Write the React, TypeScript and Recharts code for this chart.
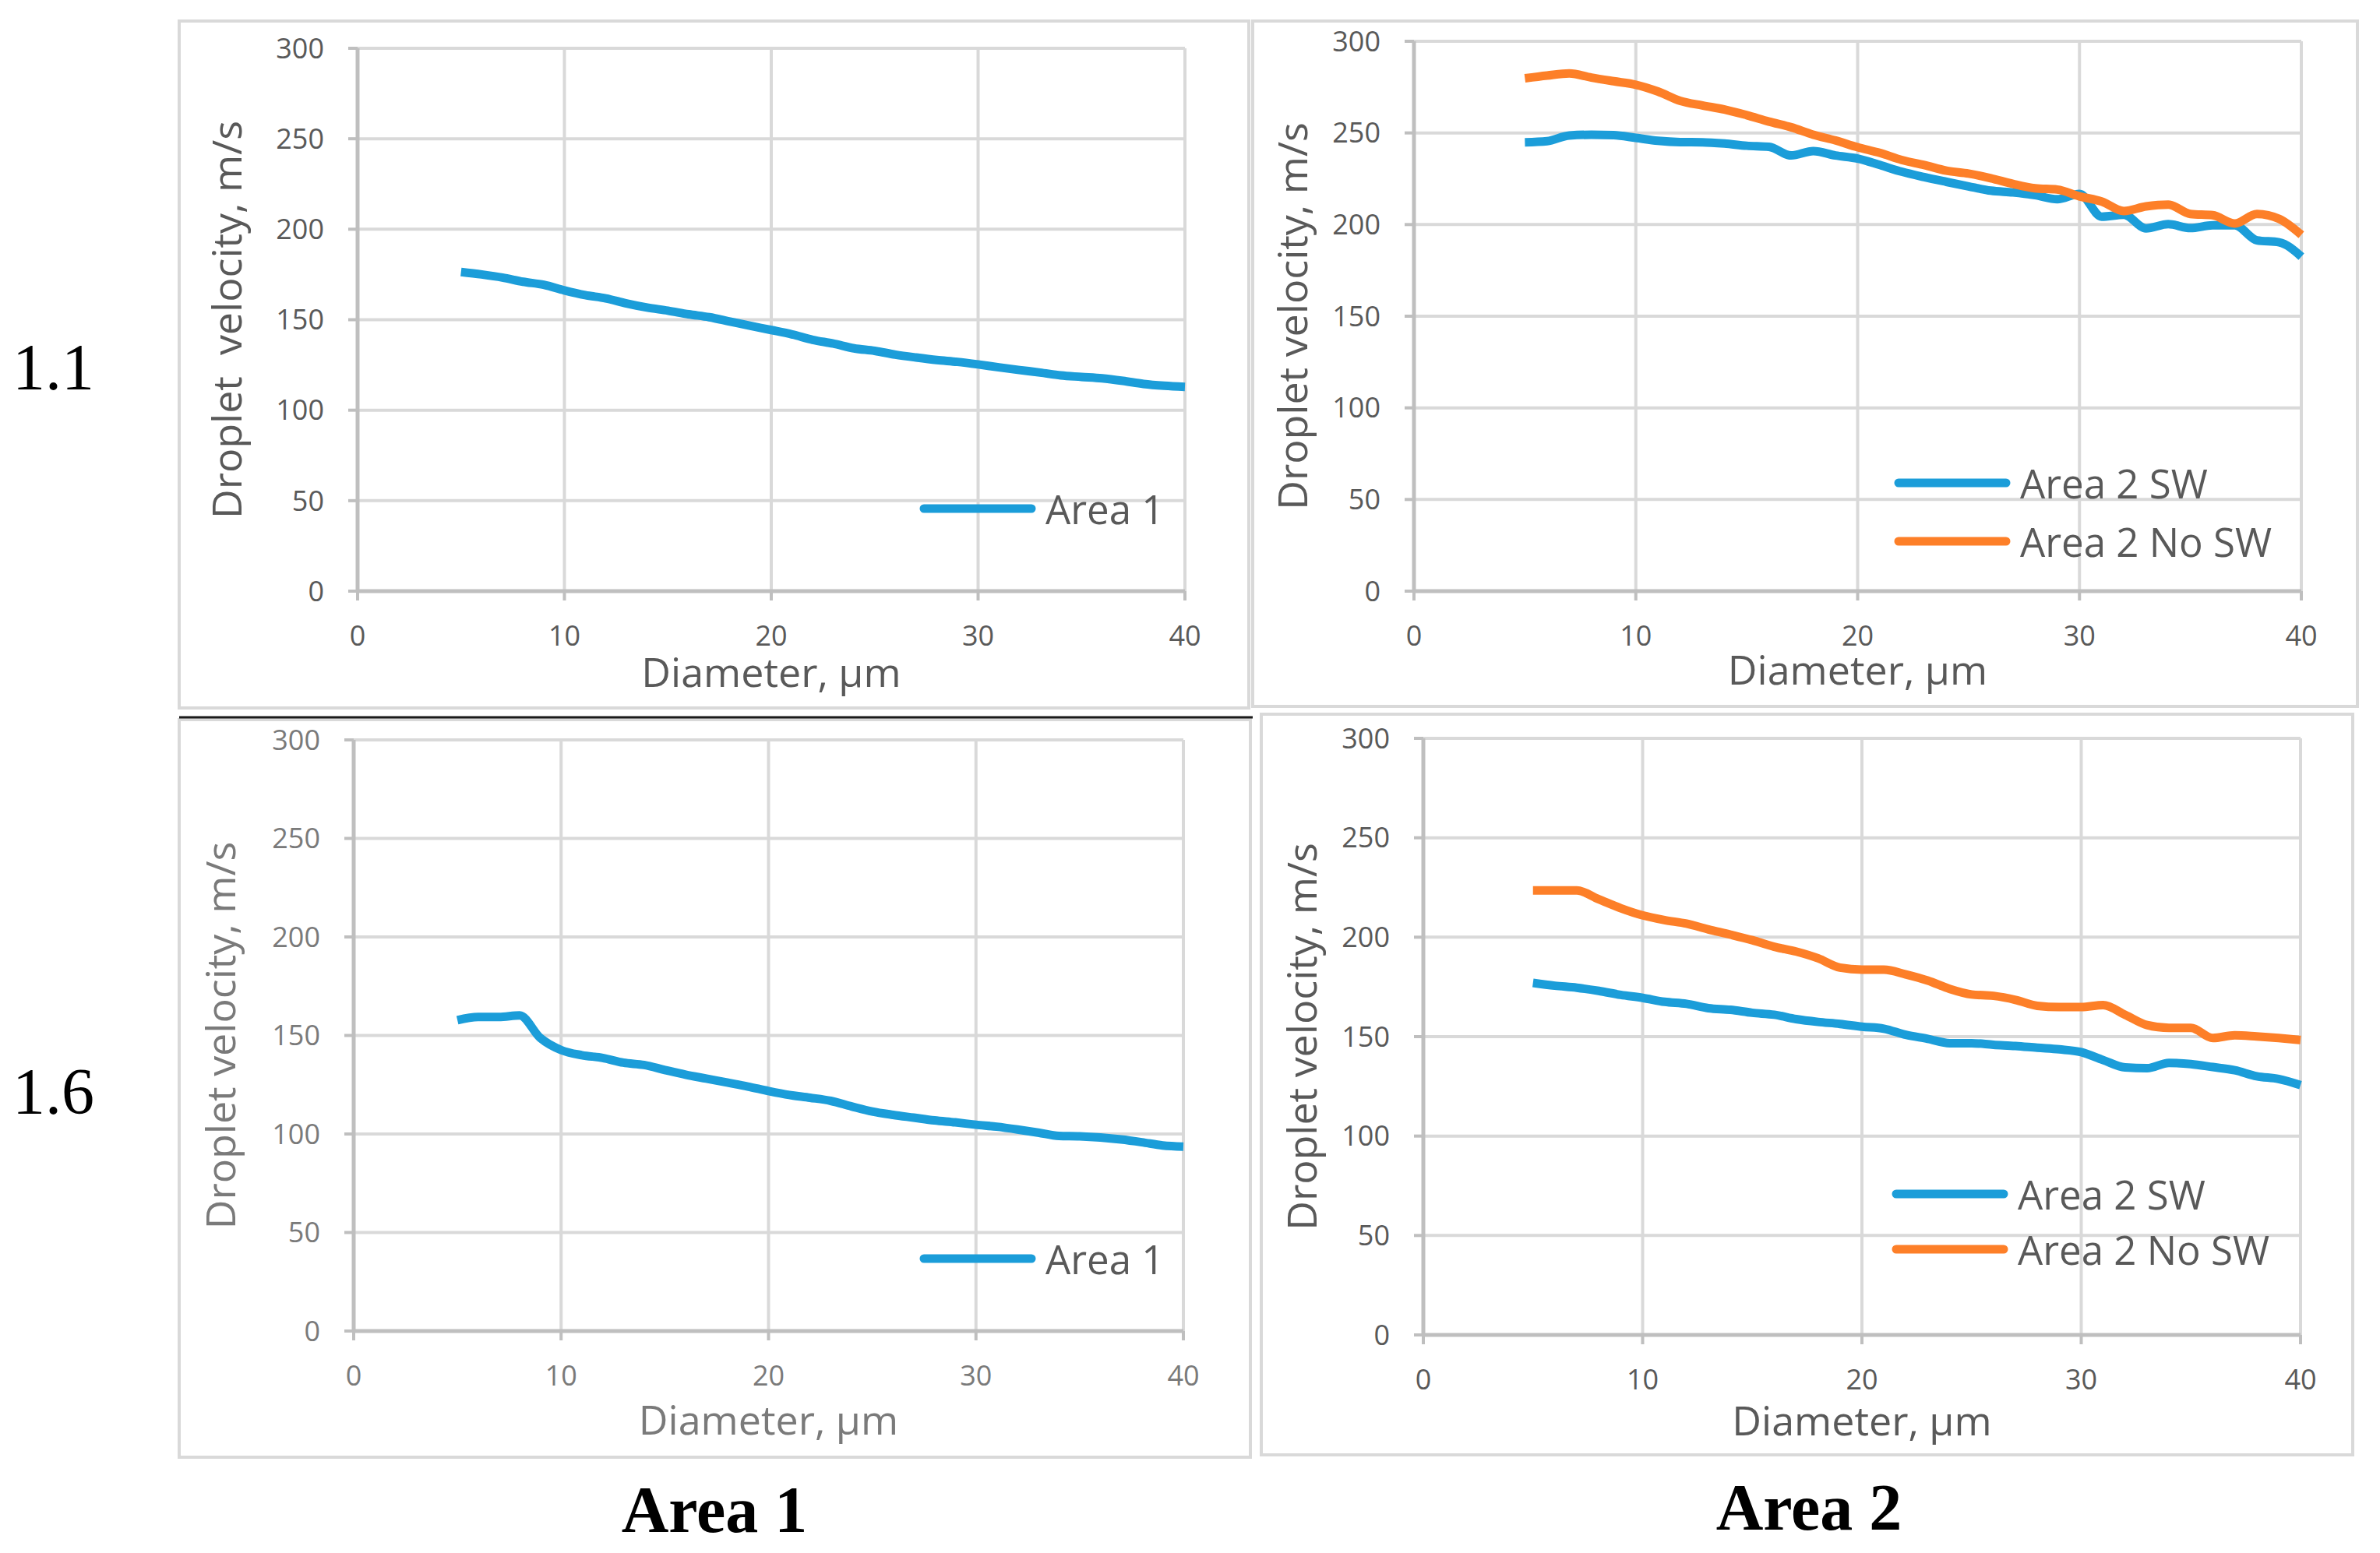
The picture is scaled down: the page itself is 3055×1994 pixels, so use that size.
import React from "react";
import { LineChart, Line, XAxis, YAxis, CartesianGrid, Legend } from "recharts";

// droplet diameter, µm
const diameters = [
  5, 6, 7, 8, 9, 10, 11, 12, 13, 14, 15, 16, 17, 18, 19, 20, 21, 22, 23, 24,
  25, 26, 27, 28, 29, 30, 31, 32, 33, 34, 35, 36, 37, 38, 39, 40,
];

// case 1.1
const area1_11 = [
  176.4, 175, 173.3, 171, 169.3, 166.2, 163.6, 161.8, 159, 156.7, 155, 153,
  151.4, 149, 146.6, 144.3, 141.9, 138.9, 136.8, 134.2, 132.8, 130.7, 129.1,
  127.7, 126.7, 125.3, 123.7, 122.2, 120.8, 119.2, 118.4, 117.6, 116.2, 114.5,
  113.5, 112.9,
];
const area2sw_11 = [
  244.9, 245.5, 248.6, 249, 248.8, 247.3, 245.7, 245, 244.9, 244.2, 243, 242.4,
  237.7, 240.1, 237.7, 236, 232.5, 228.8, 225.9, 223.3, 220.8, 218.5, 217.5,
  216, 213.8, 216.7, 204.3, 205.3, 197.9, 200.2, 198.1, 199.6, 199.6, 191.4,
  190.3, 182.5,
];
const area2nosw_11 = [
  279.8, 281.3, 282.5, 280.2, 278.2, 276.3, 272.6, 267.5, 265, 262.8, 259.7,
  256.2, 253.1, 249, 245.9, 242.2, 239.1, 235.2, 232.5, 229.4, 227.8, 225.3,
  222.2, 219.8, 219.1, 215.4, 212.6, 207.4, 209.9, 210.9, 205.8, 205.1, 200.6,
  205.8, 203.1, 194.4,
];

// case 1.6
const area1_16 = [
  157.8, 159.4, 159.4, 160.2, 148.7, 142.6, 140, 138.6, 136.2, 135, 132.5,
  130.1, 128.1, 126.1, 124.1, 121.8, 119.8, 118.4, 116.8, 114, 111.4, 109.7,
  108.3, 106.9, 105.9, 104.7, 103.7, 102.3, 100.7, 99, 98.8, 98.2, 97.2, 95.8,
  94.2, 93.6,
];
const area2sw_16 = [
  177, 175.6, 174.6, 173, 171, 169.5, 167.5, 166.5, 164.3, 163.5, 162, 161,
  158.8, 157.4, 156.4, 155, 154, 150.9, 148.9, 146.7, 146.7, 145.9, 145.3,
  144.4, 143.6, 142.2, 138.2, 134.5, 134.1, 136.8, 136.2, 134.7, 133.1, 130.1,
  128.7, 125.6,
];
const area2nosw_16 = [
  223.5, 223.5, 223.5, 219.1, 214.6, 211, 208.6, 206.8, 203.9, 201.3, 198.5,
  195.2, 192.8, 189.4, 184.7, 183.7, 183.7, 181.3, 178.2, 174, 171.2, 170.5,
  168.5, 165.5, 164.9, 164.9, 165.9, 161, 155.8, 154.4, 154.4, 149.3, 150.7,
  150.1, 149.3, 148.3,
];

const X_TICKS = [0, 10, 20, 30, 40];
const Y_TICKS = [0, 50, 100, 150, 200, 250, 300];

const BLUE = "#1b9dd9";
const ORANGE = "#fd7f28";
const FONT = "'Open Sans', 'Noto Sans', sans-serif";
const SERIF = "'Liberation Serif', 'DejaVu Serif', serif";

type Series = { key: string; name: string; color: string };

const AREA1: Series[] = [{ key: "a1", name: "Area 1", color: BLUE }];
const AREA2: Series[] = [
  { key: "sw", name: "Area 2 SW", color: BLUE },
  { key: "nosw", name: "Area 2 No SW", color: ORANGE },
];

function toRows(cols: Record<string, number[]>) {
  return diameters.map((d, i) => {
    const r: any = { d };
    for (const k in cols) r[k] = cols[k][i];
    return r;
  });
}

const rows11a = toRows({ a1: area1_11 });
const rows11b = toRows({ sw: area2sw_11, nosw: area2nosw_11 });
const rows16a = toRows({ a1: area1_16 });
const rows16b = toRows({ sw: area2sw_16, nosw: area2nosw_16 });

// space around the plot area inside each chart
const L = 220;
const T = 45;
const R = 24;
const B = 150;

function LegendBox({ payload, series, rowH, ink }: any) {
  const order = series.map((s: Series) => s.key);
  const items = [...(payload ?? [])].sort(
    (a: any, b: any) => order.indexOf(a.dataKey) - order.indexOf(b.dataKey)
  );
  return (
    <div>
      {items.map((it: any) => (
        <div
          key={it.value}
          style={{
            display: "flex",
            alignItems: "center",
            height: rowH,
            whiteSpace: "nowrap",
          }}
        >
          <svg width={150} height={14} style={{ marginRight: 12 }}>
            <line
              x1={6}
              y1={7}
              x2={144}
              y2={7}
              stroke={it.color}
              strokeWidth={11}
              strokeLinecap="round"
            />
          </svg>
          <span
            style={{
              fontFamily: FONT,
              fontSize: 51,
              color: ink,
              lineHeight: `${rowH}px`,
            }}
          >
            {it.value}
          </span>
        </div>
      ))}
    </div>
  );
}

function Panel(p: {
  plotX: number;
  plotY: number;
  plotW: number;
  plotH: number;
  rows: any[];
  series: Series[];
  yLabel: string;
  yLabelDist: number;
  xLabelDist: number;
  legendX: number;
  legendY: number;
  rowH: number;
  ink: string;
}) {
  const left = p.plotX - L;
  const top = p.plotY - T;
  const width = L + p.plotW + R;
  const height = T + p.plotH + B;
  return (
    <div style={{ position: "absolute", left, top }}>
      <LineChart
        width={width}
        height={height}
        data={p.rows}
        margin={{ top: T, right: R, bottom: 0, left: 0 }}
        style={{ overflow: "visible" }}
      >
        <CartesianGrid stroke="#d9d9d9" strokeWidth={4} />
        <XAxis
          dataKey="d"
          type="number"
          domain={[0, 40]}
          ticks={X_TICKS}
          interval={0}
          height={B}
          tickSize={12}
          tickMargin={32}
          axisLine={{ stroke: "#bfbfbf", strokeWidth: 5 }}
          tickLine={{ stroke: "#bfbfbf", strokeWidth: 4 }}
          tick={{ fill: p.ink, fontSize: 36, fontFamily: FONT }}
          label={{
            value: "Diameter, μm",
            position: "insideBottom",
            offset: B - p.xLabelDist,
            fill: p.ink,
            fontSize: 52,
            fontFamily: FONT,
          }}
        />
        <YAxis
          type="number"
          domain={[0, 300]}
          ticks={Y_TICKS}
          interval={0}
          width={L}
          tickSize={12}
          tickMargin={31}
          axisLine={{ stroke: "#bfbfbf", strokeWidth: 5 }}
          tickLine={{ stroke: "#bfbfbf", strokeWidth: 4 }}
          tick={{ fill: p.ink, fontSize: 36, fontFamily: FONT }}
          label={{
            value: p.yLabel,
            angle: -90,
            position: "insideLeft",
            offset: L - p.yLabelDist,
            fill: p.ink,
            fontSize: 52,
            fontFamily: FONT,
            style: { textAnchor: "middle" },
          }}
        />
        <Legend
          layout="vertical"
          align="center"
          verticalAlign="middle"
          wrapperStyle={{
            left: p.legendX - left,
            top: p.legendY - p.rowH / 2 - top,
            width: "auto",
          }}
          content={(props: any) => (
            <LegendBox
              payload={props.payload}
              series={p.series}
              rowH={p.rowH}
              ink="#595959"
            />
          )}
        />
        {p.series.map((s) => (
          <Line
            key={s.key}
            dataKey={s.key}
            name={s.name}
            stroke={s.color}
            strokeWidth={11}
            strokeLinejoin="round"
            type="monotone"
            dot={false}
            activeDot={false}
            isAnimationActive={false}
          />
        ))}
      </LineChart>
    </div>
  );
}

export default function App() {
  return (
    <div
      style={{
        position: "absolute",
        left: 0,
        top: 0,
        width: 3055,
        height: 1994,
        background: "#fff",
        overflow: "hidden",
      }}
    >
      <svg
        width={3055}
        height={1994}
        style={{ position: "absolute", left: 0, top: 0 }}
      >
        <g fill="none" stroke="#d9d9d9" strokeWidth={4}>
          <rect x={230} y={27} width={1373} height={882} />
          <rect x={1608} y={27} width={1418} height={880} />
          <rect x={230} y={924} width={1375} height={947} />
          <rect x={1619} y={917} width={1401} height={951} />
        </g>
        <line x1={230} y1={921} x2={1608} y2={921} stroke="#1a1a1a" strokeWidth={3} />
        <g fontFamily={SERIF} fontSize={84} fill="#000">
          <text x={16} y={500}>1.1</text>
          <text x={16} y={1430}>1.6</text>
          <text x={917} y={1967} textAnchor="middle" fontWeight="bold">
            Area 1
          </text>
          <text x={2322} y={1964} textAnchor="middle" fontWeight="bold">
            Area 2
          </text>
        </g>
      </svg>

      <Panel
        plotX={459}
        plotY={62}
        plotW={1062}
        plotH={697}
        rows={rows11a}
        series={AREA1}
        yLabel={"Droplet\u00a0 velocity, m/s"}
        yLabelDist={167}
        xLabelDist={123}
        legendX={1180}
        legendY={653}
        rowH={75}
        ink="#595959"
      />
      <Panel
        plotX={1815}
        plotY={53}
        plotW={1139}
        plotH={706}
        rows={rows11b}
        series={AREA2}
        yLabel="Droplet velocity, m/s"
        yLabelDist={155}
        xLabelDist={120}
        legendX={2431}
        legendY={620}
        rowH={75}
        ink="#595959"
      />
      <Panel
        plotX={454}
        plotY={950}
        plotW={1065}
        plotH={759}
        rows={rows16a}
        series={AREA1}
        yLabel="Droplet velocity, m/s"
        yLabelDist={170}
        xLabelDist={133}
        legendX={1180}
        legendY={1616}
        rowH={75}
        ink="#7a7a7a"
      />
      <Panel
        plotX={1827}
        plotY={948}
        plotW={1126}
        plotH={766}
        rows={rows16b}
        series={AREA2}
        yLabel="Droplet velocity, m/s"
        yLabelDist={155}
        xLabelDist={129}
        legendX={2428}
        legendY={1533}
        rowH={71}
        ink="#595959"
      />
    </div>
  );
}
